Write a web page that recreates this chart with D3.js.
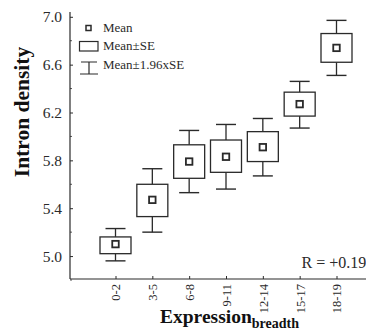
<!DOCTYPE html>
<html>
<head>
<meta charset="utf-8">
<script src="https://cdn.jsdelivr.net/npm/d3@7"></script>
<style>
  html, body { margin: 0; padding: 0; background: #fff; overflow: hidden; }
  svg { display: block; font-family: 'Liberation Serif', 'DejaVu Serif', serif; }
</style>
</head>
<body>
<div id="chart"></div>
<script>
const WIDTH = 366;
const HEIGHT = 333;

const categories = ['0-2', '3-5', '6-8', '9-11', '12-14', '15-17', '18-19'];
const means = [5.10, 5.47, 5.79, 5.83, 5.91, 6.27, 6.74];
const seLow = [5.02, 5.33, 5.65, 5.70, 5.79, 6.17, 6.62];
const seHigh = [5.16, 5.60, 5.93, 5.97, 6.04, 6.37, 6.86];
const ciLow = [4.96, 5.20, 5.53, 5.56, 5.67, 6.07, 6.51];
const ciHigh = [5.23, 5.73, 6.05, 6.10, 6.15, 6.46, 6.97];
const yTicks = [5.0, 5.4, 5.8, 6.2, 6.6, 7.0];
const yMinorTicks = [4.8, 5.2, 5.6, 6.0, 6.4, 6.8];
const legendItems = ['Mean', 'Mean\u00b1SE', 'Mean\u00b11.96xSE'];

const axisX = 70;
const axisY = 279;
const ink = '#2a2a2a';

const data = categories.map((c, i) => ({
  cat: c,
  mean: means[i],
  lo: seLow[i],
  hi: seHigh[i],
  ciLo: ciLow[i],
  ciHi: ciHigh[i],
}));

const svg = d3
  .select('#chart')
  .append('svg')
  .attr('width', WIDTH)
  .attr('height', HEIGHT);

const x = d3.scalePoint().domain(categories).range([115.5, 336.5]);
const y = d3.scaleLinear().domain([4.8, 7.04]).range([280, 12]);

// axes
const gy = svg
  .append('g')
  .attr('transform', `translate(${axisX},0)`)
  .call(
    d3
      .axisLeft(y)
      .tickValues(yTicks)
      .tickFormat(d3.format('.1f'))
      .tickSizeInner(-3)
      .tickSizeOuter(0)
      .tickPadding(8)
  );
gy.select('.domain').remove();
gy.selectAll('line').attr('stroke', ink);
gy.selectAll('text')
  .attr('font-family', 'Liberation Serif')
  .attr('font-size', 15.5)
  .attr('fill', ink);

svg
  .append('g')
  .selectAll('line')
  .data(yMinorTicks)
  .join('line')
  .attr('x1', axisX)
  .attr('x2', axisX + 2)
  .attr('y1', (d) => y(d))
  .attr('y2', (d) => y(d))
  .attr('stroke', ink)
  .attr('stroke-width', 0.8);

svg
  .append('line')
  .attr('x1', axisX)
  .attr('x2', axisX)
  .attr('y1', 12)
  .attr('y2', axisY)
  .attr('stroke', ink)
  .attr('stroke-width', 1.2);

const gx = svg
  .append('g')
  .attr('transform', `translate(0,${axisY})`)
  .call(d3.axisBottom(x).tickSizeInner(-3).tickSizeOuter(0).tickPadding(5));
gx.select('.domain').remove();
gx.selectAll('line').attr('stroke', ink);
gx.selectAll('text')
  .attr('font-family', 'Liberation Serif')
  .attr('font-size', 12.5)
  .attr('fill', ink)
  .attr('transform', 'rotate(-90)')
  .attr('text-anchor', 'end')
  .attr('x', -5)
  .attr('y', 0)
  .attr('dy', '0.35em');

svg
  .append('line')
  .attr('x1', axisX)
  .attr('x2', WIDTH)
  .attr('y1', axisY)
  .attr('y2', axisY)
  .attr('stroke', ink)
  .attr('stroke-width', 1.2);

// boxes
const boxW = 31;
const capW = 20;
const sq = 6.5;
const groups = svg
  .append('g')
  .selectAll('g')
  .data(data)
  .join('g')
  .attr('stroke', ink)
  .attr('fill', 'none');

groups
  .append('line')
  .attr('x1', (d) => x(d.cat))
  .attr('x2', (d) => x(d.cat))
  .attr('y1', (d) => y(d.ciHi))
  .attr('y2', (d) => y(d.hi))
  .attr('stroke-width', 1.3);
groups
  .append('line')
  .attr('x1', (d) => x(d.cat))
  .attr('x2', (d) => x(d.cat))
  .attr('y1', (d) => y(d.lo))
  .attr('y2', (d) => y(d.ciLo))
  .attr('stroke-width', 1.3);
groups
  .selectAll('.cap')
  .data((d) => [
    [d.cat, d.ciHi],
    [d.cat, d.ciLo],
  ])
  .join('line')
  .attr('class', 'cap')
  .attr('x1', (d) => x(d[0]) - capW / 2)
  .attr('x2', (d) => x(d[0]) + capW / 2)
  .attr('y1', (d) => y(d[1]))
  .attr('y2', (d) => y(d[1]))
  .attr('stroke-width', 1.4);
groups
  .append('rect')
  .attr('x', (d) => x(d.cat) - boxW / 2)
  .attr('width', boxW)
  .attr('y', (d) => y(d.hi))
  .attr('height', (d) => y(d.lo) - y(d.hi))
  .attr('fill', '#fff')
  .attr('stroke-width', 1.3);
groups
  .append('rect')
  .attr('x', (d) => x(d.cat) - sq / 2)
  .attr('y', (d) => y(d.mean) - sq / 2)
  .attr('width', sq)
  .attr('height', sq)
  .attr('stroke-width', 1.8);

// legend
const legend = svg.append('g').attr('stroke', ink).attr('fill', 'none');
legend
  .append('rect')
  .attr('x', 86)
  .attr('y', 25.5)
  .attr('width', 5)
  .attr('height', 5)
  .attr('stroke-width', 1.5);
legend
  .append('rect')
  .attr('x', 79.5)
  .attr('y', 41.5)
  .attr('width', 18.5)
  .attr('height', 9.5)
  .attr('stroke-width', 1.2);
legend
  .append('path')
  .attr('d', 'M81,62H97M89,62V74M80,74H98')
  .attr('stroke-width', 1.2);
svg
  .append('g')
  .selectAll('text')
  .data(legendItems)
  .join('text')
  .attr('x', 103)
  .attr('y', (d, i) => 27 + i * 18.5)
  .attr('dy', '0.35em')
  .attr('font-size', 13)
  .attr('fill', ink)
  .text((d) => d);

// titles
svg
  .append('text')
  .attr('transform', 'translate(29,112) rotate(-90)')
  .attr('text-anchor', 'middle')
  .attr('font-size', 21.5)
  .attr('font-weight', 'bold')
  .attr('fill', '#111')
  .text('Intron density');

const xt = svg
  .append('text')
  .attr('x', 160)
  .attr('y', 323)
  .attr('font-size', 19.5)
  .attr('font-weight', 'bold')
  .attr('fill', '#111');
xt.append('tspan').text('Expression');
xt.append('tspan').attr('dy', 5).attr('font-size', 14).text('breadth');

svg
  .append('text')
  .attr('x', 301.5)
  .attr('y', 268)
  .attr('font-size', 16)
  .attr('fill', ink)
  .text('R = +0.19');
</script>
</body>
</html>
